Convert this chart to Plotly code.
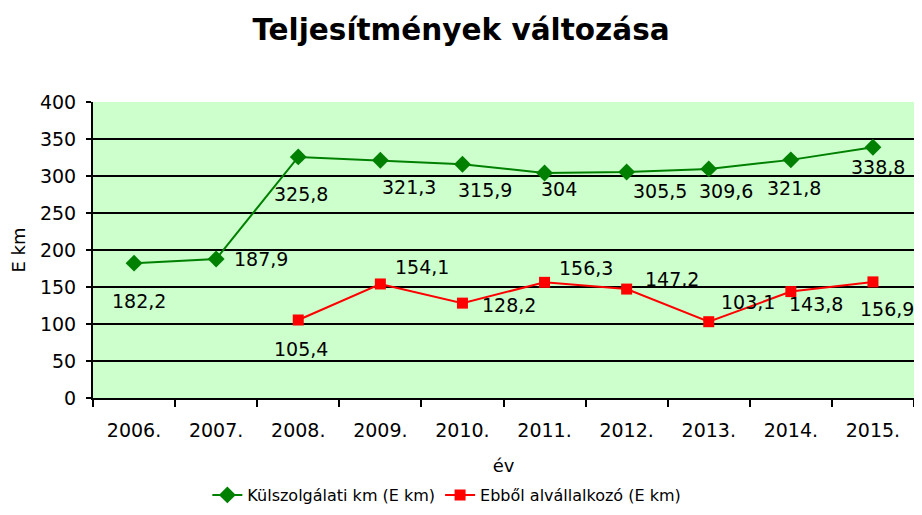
import plotly.graph_objects as go

# adatok
evek = ["2006.", "2007.", "2008.", "2009.", "2010.", "2011.", "2012.", "2013.", "2014.", "2015."]
kulszolgalati = [182.2, 187.9, 325.8, 321.3, 315.9, 304, 305.5, 309.6, 321.8, 338.8]
alvallalkozo = [None, None, 105.4, 154.1, 128.2, 156.3, 147.2, 103.1, 143.8, 156.9]

# címkék eltolása pixelben (dx, dy lefelé), ahogy az eredeti Excel ábrán
eltolas_zold = [(5, 38), (45, 0), (3, 37), (29, 27), (23, 26), (14, 16), (33, 19), (17, 22), (3, 28), (5, 20)]
eltolas_piros = [None, None, (3, 29), (42, -17), (47, 2), (41, -14), (45, -10), (39, -20), (25, 12), (14, 27)]


def cimke(v):
    return f"{v:g}".replace(".", ",")


FONT = "DejaVu Sans"

fig = go.Figure()
fig.add_trace(go.Scatter(
    x=evek, y=kulszolgalati, name="Külszolgálati km (E km)",
    mode="lines+markers",
    line=dict(color="#008000", width=2),
    marker=dict(symbol="diamond", size=13, color="#008000"),
    cliponaxis=False,
))
fig.add_trace(go.Scatter(
    x=evek, y=alvallalkozo, name="Ebből alvállalkozó (E km)",
    mode="lines+markers",
    line=dict(color="#FF0000", width=2),
    marker=dict(symbol="square", size=11, color="#FF0000"),
    cliponaxis=False,
))

# adatcímkék (kategória-sorszámmal, hogy a tengely ne nyúljon meg)
for sor, eltolas in [(kulszolgalati, eltolas_zold), (alvallalkozo, eltolas_piros)]:
    for i, (v, off) in enumerate(zip(sor, eltolas)):
        if v is None:
            continue
        fig.add_annotation(x=i, y=v, text=cimke(v), showarrow=False,
                           xshift=off[0], yshift=-off[1],
                           font=dict(size=19, color="black", family=FONT))

# a body 8px-es margója miatt az ábra 16px-szel kisebb, így nincs görgetősáv
fig.update_layout(
    width=906, height=499,
    margin=dict(l=85, r=0, t=94, b=109, autoexpand=False),
    paper_bgcolor="white",
    plot_bgcolor="#CCFFCC",
    font=dict(family=FONT, size=18, color="black"),
    title=dict(text="<b>Teljesítmények változása</b>", x=0.5, xref="container",
               xanchor="center", y=0.956, yanchor="middle",
               font=dict(size=29.5, family=FONT, color="black")),
    showlegend=True,
    legend=dict(orientation="h", x=0.431, xanchor="center",
                yref="container", y=0.024, yanchor="middle",
                font=dict(size=16)),
)

fig.update_xaxes(
    type="category", range=[-0.5, len(evek) - 0.5],
    title=dict(text="év", font=dict(size=18), standoff=20),
    showline=True, linecolor="black", linewidth=2,
    ticks="outside", ticklen=7, tickcolor="black", tickwidth=2, tickson="boundaries",
    tickfont=dict(size=19), ticklabelstandoff=14, tickangle=0, showgrid=False,
)
fig.update_yaxes(
    title=dict(text="E km", font=dict(size=18), standoff=12),
    range=[0, 400], dtick=50,
    showline=True, linecolor="black", linewidth=2,
    ticks="outside", ticklen=5, tickcolor="black", tickwidth=2,
    tickfont=dict(size=19), ticklabelstandoff=6,
    showgrid=True, gridcolor="black", gridwidth=2,
    zeroline=False,
)

fig.write_html("out.html")
